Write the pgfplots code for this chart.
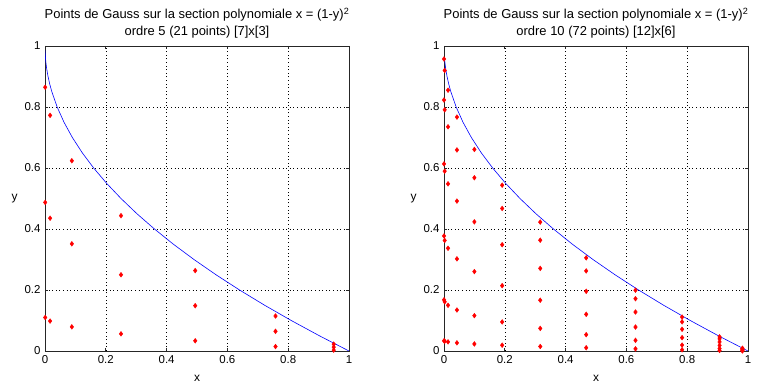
\documentclass[border=0pt]{standalone}
\usepackage{fontspec}
\setmainfont{Liberation Sans}
\usepackage{pgfplots}
\pgfplotsset{compat=1.18}
\pgfplotsset{
  mystyle/.style={
    scale only axis, width=304bp, height=305bp, anchor=south west,
    xmin=0, xmax=1, ymin=0, ymax=1,
    xtick={0,0.2,0.4,0.6,0.8,1}, ytick={0,0.2,0.4,0.6,0.8,1},
    xticklabels={0,0.2,0.4,0.6,0.8,1}, yticklabels={0,0.2,0.4,0.6,0.8,1},
    tick align=inside, major tick length=3bp,
    grid=major, grid style={dash pattern=on 1bp off 2.6bp, black, line width=0.6pt},
    axis line style={black!85, line width=0.7pt},
    tick style={black!85, line width=0.7pt},
    ticklabel style={font=\fontsize{11.5}{13}\selectfont},
    xticklabel style={yshift=-1bp},
    yticklabel style={xshift=-1bp},
    /pgf/number format/assume math mode=true,
    xlabel={x}, ylabel={y},
    label style={font=\fontsize{12}{14}\selectfont},
    xlabel style={yshift=-5bp},
    ylabel style={rotate=-90, xshift=0bp},
    title style={font=\fontsize{13}{17}\selectfont, align=center, yshift=-2bp},
  },
  gpts/.style={only marks, mark=diamond*, mark size=2.4pt, color=red, mark options={fill=red, draw=red}},
  curve/.style={blue, line width=0.6pt, mark=none},
}
\begin{document}
\begin{tikzpicture}
\useasboundingbox (0,0) rectangle (769bp,392bp);
\begin{axis}[mystyle, at={(45bp,41bp)},
  title={Points de Gauss sur la section polynomiale x = (1-y)\textsuperscript{2}\\ordre 5 (21 points) [7]x[3]}]
\addplot[curve] coordinates {
(0.0002,0.986)(0.0004,0.98)(0.0009,0.97)(0.0025,0.95)(0.005625,0.925)(0.01,0.9)(0.015625,0.875)(0.0225,0.85)(0.04,0.8)(0.0625,0.75)(0.09,0.7)(0.1225,0.65)(0.16,0.6)(0.2025,0.55)(0.25,0.5)(0.3025,0.45)(0.36,0.4)(0.4225,0.35)(0.49,0.3)(0.5625,0.25)(0.64,0.2)(0.7225,0.15)(0.81,0.1)(0.9025,0.05)(1,0)};
\addplot[gpts] coordinates {
(0.0006475,0.109834)(0.0006475,0.487277)(0.0006475,0.864720)
(0.0167015,0.098136)(0.0167015,0.435383)(0.0167015,0.772630)
(0.0882550,0.079221)(0.0882550,0.351461)(0.0882550,0.623702)
(0.25,0.056351)(0.25,0.25)(0.25,0.443649)
(0.4941002,0.033481)(0.4941002,0.148539)(0.4941002,0.263596)
(0.7582327,0.014565)(0.7582327,0.064617)(0.7582327,0.114670)
(0.9497555,0.002868)(0.9497555,0.012723)(0.9497555,0.022578)};
\end{axis}
\begin{axis}[mystyle, at={(444bp,41bp)},
  title={Points de Gauss sur la section polynomiale x = (1-y)\textsuperscript{2}\\ordre 10 (72 points) [12]x[6]}]
\addplot[curve] coordinates {
(0.002025,0.955)(0.0025,0.95)(0.005625,0.925)(0.01,0.9)(0.015625,0.875)(0.0225,0.85)(0.04,0.8)(0.0625,0.75)(0.09,0.7)(0.1225,0.65)(0.16,0.6)(0.2025,0.55)(0.25,0.5)(0.3025,0.45)(0.36,0.4)(0.4225,0.35)(0.49,0.3)(0.5625,0.25)(0.64,0.2)(0.7225,0.15)(0.81,0.1)(0.9025,0.05)(1,0)};
\addplot[gpts] coordinates {
(0.0000850,0.0334539)(0.0000850,0.1678335)(0.0000850,0.3771806)(0.0000850,0.6135997)(0.0000850,0.8229468)(0.0000850,0.9573264)
(0.0022984,0.0321464)(0.0022984,0.1612742)(0.0022984,0.3624396)(0.0022984,0.5896190)(0.0022984,0.7907844)(0.0022984,0.9199122)
(0.0132362,0.0298806)(0.0132362,0.1499066)(0.0132362,0.3368925)(0.0132362,0.5480588)(0.0132362,0.7350447)(0.0132362,0.8550707)
(0.0425766,0.0267981)(0.0425766,0.1344421)(0.0425766,0.3021383)(0.0425766,0.4915207)(0.0425766,0.6592169)(0.0425766,0.7668609)
(0.0999093,0.0230925)(0.0999093,0.1158521)(0.0999093,0.2603602)(0.0999093,0.4235555)(0.0999093,0.5680636)(0.0999093,0.6608232)
(0.1913041,0.0189969)(0.1913041,0.0953047)(0.1913041,0.2141828)(0.1913041,0.3484339)(0.1913041,0.4673120)(0.1913041,0.5436198)
(0.3165376,0.0147683)(0.3165376,0.0740906)(0.3165376,0.1665076)(0.3165376,0.2708757)(0.3165376,0.3632927)(0.3165376,0.4226150)
(0.4677407,0.0106727)(0.4677407,0.0535432)(0.4677407,0.1203302)(0.4677407,0.1957541)(0.4677407,0.2625411)(0.4677407,0.3054116)
(0.6298946,0.0069671)(0.6298946,0.0349532)(0.6298946,0.0785521)(0.6298946,0.1277889)(0.6298946,0.1713878)(0.6298946,0.1993739)
(0.7831388,0.0038846)(0.7831388,0.0194887)(0.7831388,0.0437979)(0.7831388,0.0712508)(0.7831388,0.0955600)(0.7831388,0.1111641)
(0.9064156,0.0016188)(0.9064156,0.0081211)(0.9064156,0.0182508)(0.9064156,0.0296906)(0.9064156,0.0398203)(0.9064156,0.0463226)
(0.9816456,0.0003113)(0.9816456,0.0015618)(0.9816456,0.0035098)(0.9816456,0.0057099)(0.9816456,0.0076579)(0.9816456,0.0089084)};
\end{axis}
\end{tikzpicture}
\end{document}
